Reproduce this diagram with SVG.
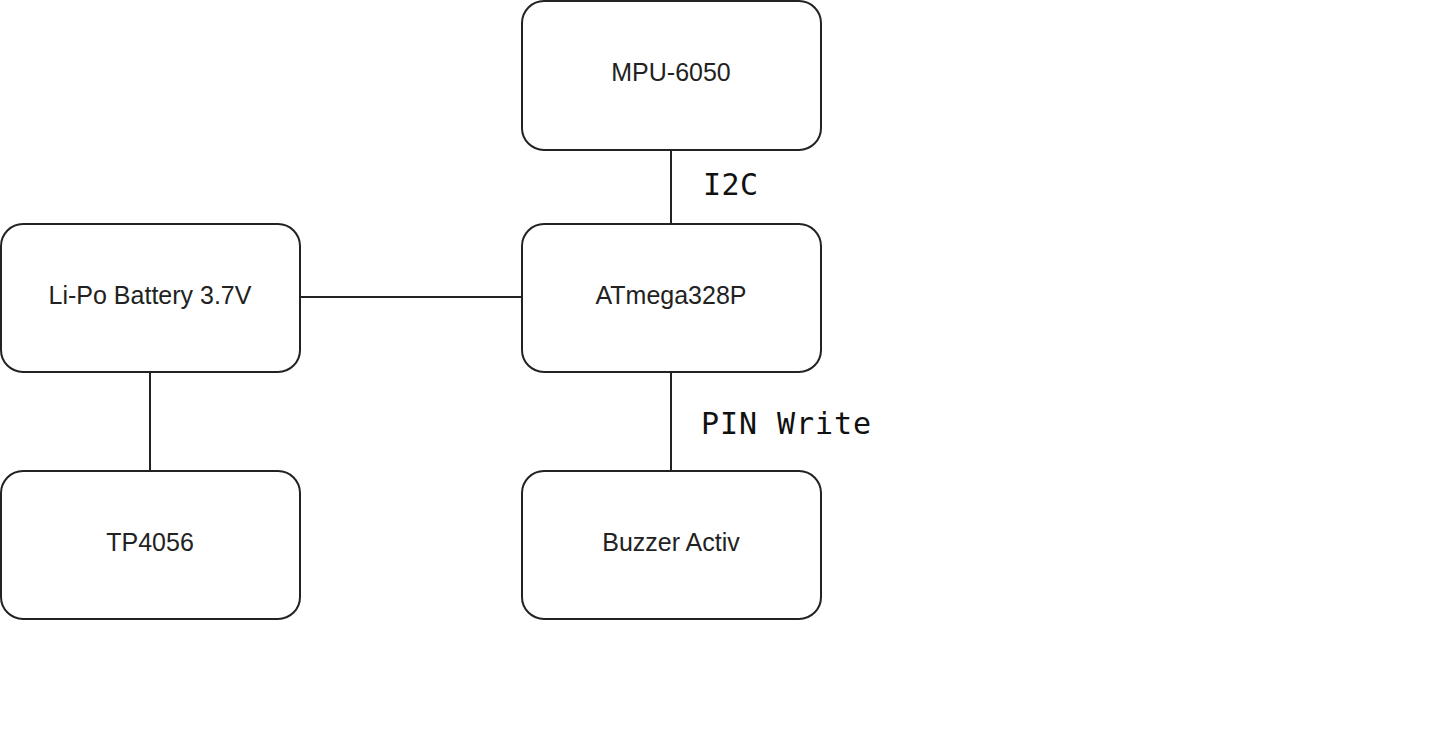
<svg xmlns="http://www.w3.org/2000/svg" width="1437" height="751" viewBox="0 0 1437 751">
<style>
.n{fill:#fff;stroke:#222;stroke-width:2}
.t{font-family:"Liberation Sans",Arial,sans-serif;font-size:25px;fill:#222;text-anchor:middle;dominant-baseline:central}
.m{font-family:"DejaVu Sans Mono","Liberation Mono",monospace;font-size:30px;fill:#111}
.c{stroke:#222;stroke-width:2;fill:none}
</style>
<rect width="1437" height="751" fill="#fff"/>
<g id="connectors">
<line class="c" x1="671" y1="150" x2="671" y2="224"/>
<line class="c" x1="300" y1="297" x2="522" y2="297"/>
<line class="c" x1="671" y1="372" x2="671" y2="471"/>
<line class="c" x1="150" y1="372" x2="150" y2="471"/>
<text class="m" x="703" y="195" textLength="55">I2C</text>
<text class="m" x="701" y="434" textLength="170">PIN Write</text>
</g>
<g id="mpu"><rect class="n" x="522" y="1" width="299" height="149" rx="22"/><text class="t" x="671" y="72">MPU-6050</text></g>
<g id="atmega"><rect class="n" x="522" y="224" width="299" height="148" rx="22"/><text class="t" x="671" y="295">ATmega328P</text></g>
<g id="battery"><rect class="n" x="1" y="224" width="299" height="148" rx="22"/><text class="t" x="150" y="295">Li-Po Battery 3.7V</text></g>
<g id="tp"><rect class="n" x="1" y="471" width="299" height="148" rx="22"/><text class="t" x="150" y="542">TP4056</text></g>
<g id="buzzer"><rect class="n" x="522" y="471" width="299" height="148" rx="22"/><text class="t" x="671" y="542">Buzzer Activ</text></g>
</svg>
